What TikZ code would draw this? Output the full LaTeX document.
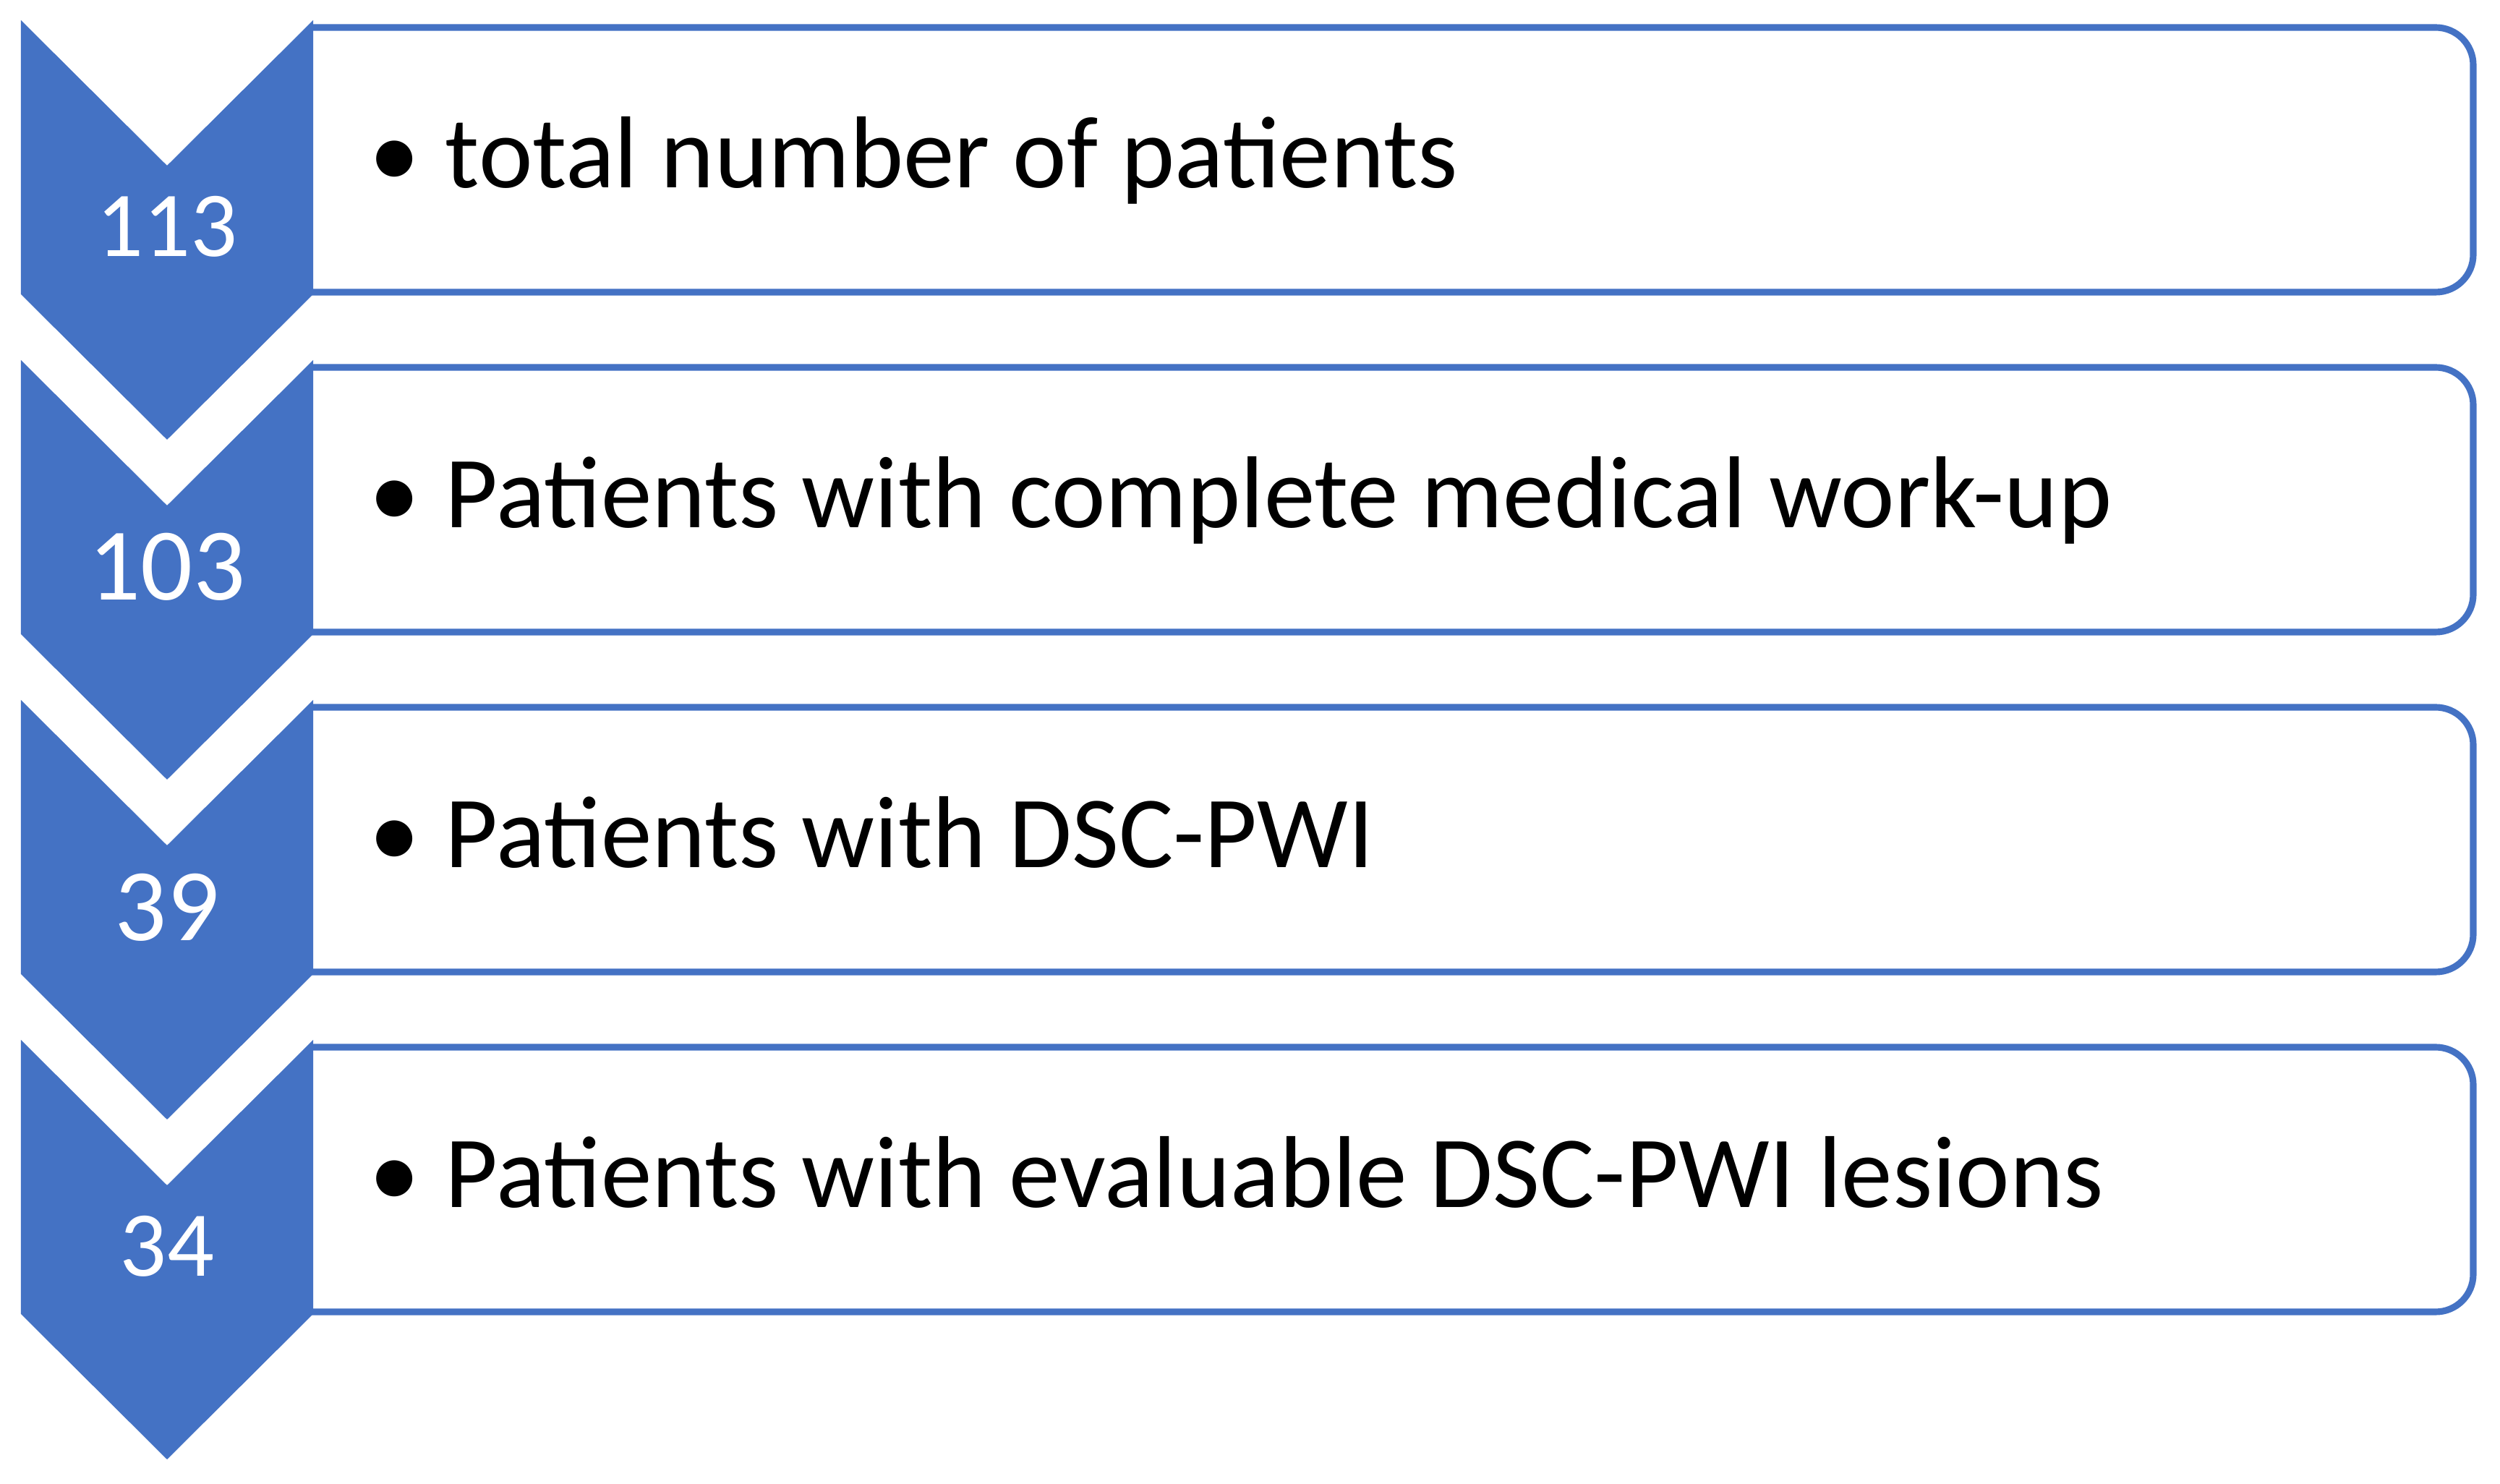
\documentclass[tikz,border=0pt]{standalone}
\usepackage{fontspec}
\setmainfont{Carlito}
\definecolor{stepblue}{HTML}{4472C4}

\begin{document}
\begin{tikzpicture}[
  chevron/.style={fill=stepblue, draw=none},
  stepbox/.style={draw=stepblue, line width=2.6pt},
  count/.style={text=white, font=\fontsize{36.5}{40}\selectfont, anchor=base, inner sep=0pt},
  bigcount/.style={count, font=\fontsize{40.5}{44}\selectfont},
  steptext/.style={font=\fontsize{40.2}{44}\selectfont, anchor=base west, inner sep=0pt}
]
  % page
  \useasboundingbox (0,0) rectangle (34.57,20.52);

  % step 1
  \draw[stepbox] (4.33,20.14) -- (33.68,20.14) arc[start angle=90, end angle=0, radius=0.52] -- (34.20,17.00) arc[start angle=0, end angle=-90, radius=0.52] -- (4.2,16.48);
  \fill[chevron] (0.29,20.24) -- (2.31,18.23) -- (4.33,20.24) -- (4.33,16.45) -- (2.31,14.44) -- (0.29,16.45) -- cycle;
  \node[count] (n1) at (2.31,16.97) {113};
  \node[steptext] (t1) at (5.10,17.92) {\textbullet\hspace{0.35cm}total number of patients};

  % step 2
  \draw[stepbox] (4.33,15.44) -- (33.68,15.44) arc[start angle=90, end angle=0, radius=0.52] -- (34.20,12.30) arc[start angle=0, end angle=-90, radius=0.52] -- (4.2,11.78);
  \fill[chevron] (0.29,15.54) -- (2.31,13.53) -- (4.33,15.54) -- (4.33,11.75) -- (2.31,9.74) -- (0.29,11.75) -- cycle;
  \node[bigcount] (n2) at (2.31,12.22) {103};
  \node[steptext] (t2) at (5.10,13.22) {\textbullet\hspace{0.35cm}Patients with complete medical work-up};

  % step 3
  \draw[stepbox] (4.33,10.74) -- (33.68,10.74) arc[start angle=90, end angle=0, radius=0.52] -- (34.20,7.60) arc[start angle=0, end angle=-90, radius=0.52] -- (4.2,7.08);
  \fill[chevron] (0.29,10.84) -- (2.31,8.83) -- (4.33,10.84) -- (4.33,7.05) -- (2.31,5.04) -- (0.29,7.05) -- cycle;
  \node[bigcount] (n3) at (2.31,7.51) {39};
  \node[steptext] (t3) at (5.10,8.52) {\textbullet\hspace{0.35cm}Patients with DSC-PWI};

  % step 4
  \draw[stepbox] (4.33,6.04) -- (33.68,6.04) arc[start angle=90, end angle=0, radius=0.52] -- (34.20,2.90) arc[start angle=0, end angle=-90, radius=0.52] -- (4.2,2.38);
  \fill[chevron] (0.29,6.14) -- (2.31,4.13) -- (4.33,6.14) -- (4.33,2.35) -- (2.31,0.34) -- (0.29,2.35) -- cycle;
  \node[count] (n4) at (2.31,2.87) {34};
  \node[steptext] (t4) at (5.10,3.82) {\textbullet\hspace{0.35cm}Patients with evaluable DSC-PWI lesions};

\end{tikzpicture}
\end{document}
